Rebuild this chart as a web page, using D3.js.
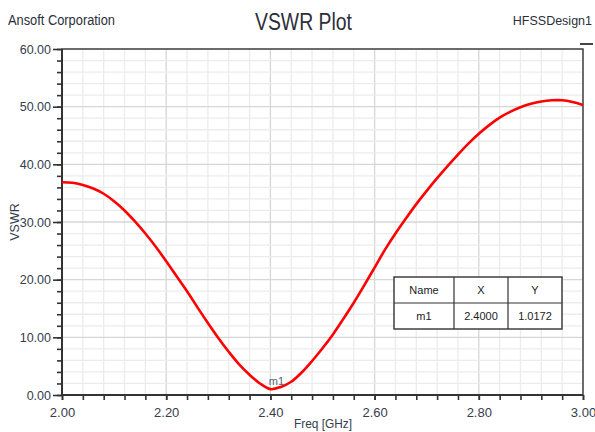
<!DOCTYPE html>
<html><head><meta charset="utf-8">
<script src="https://cdn.jsdelivr.net/npm/d3@7"></script>
<style>body{margin:0;background:#fff}svg{display:block;font-family:Arial,"Liberation Sans",sans-serif}</style>
</head><body>
<script>
const freq = [2.00,2.02,2.04,2.06,2.08,2.10,2.12,2.14,2.16,2.18,2.20,2.22,2.24,2.26,2.28,2.30,2.32,2.34,2.36,2.38,2.40,2.42,2.44,2.46,2.48,2.50,2.52,2.54,2.56,2.58,2.60,2.62,2.64,2.66,2.68,2.70,2.72,2.74,2.76,2.78,2.80,2.82,2.84,2.86,2.88,2.90,2.92,2.94,2.96,2.98,3.00];
const vswr = [36.9,36.8,36.4,35.8,34.9,33.6,32.0,30.1,28.0,25.7,23.2,20.6,18.0,15.2,12.5,9.9,7.5,5.3,3.5,2.0,1.02,1.4,2.3,3.9,5.9,8.1,10.5,13.2,16.0,19.0,22.1,25.2,28.0,30.6,33.1,35.4,37.6,39.7,41.7,43.6,45.3,46.8,48.1,49.1,49.9,50.5,50.9,51.1,51.1,50.8,50.3];
const xTickLabels = ["2.00","2.20","2.40","2.60","2.80","3.00"];
const yTickLabels = ["0.00","10.00","20.00","30.00","40.00","50.00","60.00"];
const tableHeader = ["Name","X","Y"];
const tableRow = ["m1","2.4000","1.0172"];
const markerName = "m1";
const markerX = 2.40, markerY = 1.0172;

const W = 595, H = 432;
const svg = d3.select("body").append("svg").attr("width", W).attr("height", H);
const x = d3.scaleLinear().domain([2, 3]).range([62, 583]);
const y = d3.scaleLinear().domain([0, 60]).range([395, 49]);
const txt = "#353d4e";

// gridlines
const xMinor = d3.range(0, 26).map(i => 2 + i * 0.04);
const yMinor = d3.range(0, 31).map(i => i * 2);
const g = svg.append("g");
g.selectAll(".vx").data(xMinor).join("line")
  .attr("x1", d => x(d)).attr("x2", d => x(d)).attr("y1", y(60)).attr("y2", y(0))
  .attr("stroke", (d, i) => i % 5 === 0 ? "#d6d6d6" : "#ececec").attr("stroke-width", 1.3);
g.selectAll(".hy").data(yMinor).join("line")
  .attr("x1", x(2)).attr("x2", x(3)).attr("y1", d => y(d)).attr("y2", d => y(d))
  .attr("stroke", (d, i) => i % 5 === 0 ? "#d6d6d6" : "#ececec").attr("stroke-width", 1.3);

// frame
svg.append("rect").attr("x", x(2)).attr("y", y(60)).attr("width", x(3) - x(2)).attr("height", y(0) - y(60))
  .attr("fill", "none").attr("stroke", "#3a3a3a").attr("stroke-width", 1.4);

// axes
const xAxisMinor = d3.axisBottom(x).tickValues(xMinor).tickSize(5).tickFormat("");
const xAxisMajor = d3.axisBottom(x).tickValues(xTickLabels.map(Number)).tickSize(5).tickPadding(8)
  .tickFormat((d, i) => xTickLabels[i]);
const yAxisMinor = d3.axisLeft(y).tickValues(yMinor).tickSize(5).tickFormat("");
const yAxisMajor = d3.axisLeft(y).tickValues(yTickLabels.map(Number)).tickSize(9).tickPadding(2)
  .tickFormat((d, i) => yTickLabels[i]);
function styleAxis(sel, fs) {
  sel.select(".domain").remove();
  sel.selectAll("line").attr("stroke", "#333").attr("stroke-width", 1.6);
  sel.selectAll("text").attr("fill", txt).attr("font-size", fs).attr("font-family", "Arial, 'Liberation Sans', sans-serif");
}
svg.append("g").attr("transform", `translate(0,${y(0)})`).call(xAxisMinor).call(s => styleAxis(s, 13));
svg.append("g").attr("transform", `translate(0,${y(0)})`).call(xAxisMajor).call(s => styleAxis(s, 13));
svg.append("g").attr("transform", `translate(${x(2)},0)`).call(yAxisMinor).call(s => styleAxis(s, 12.5));
svg.append("g").attr("transform", `translate(${x(2)},0)`).call(yAxisMajor).call(s => styleAxis(s, 12.5));
// thicker left & bottom axis lines
svg.append("line").attr("x1", x(2)).attr("x2", x(2)).attr("y1", y(60)).attr("y2", y(0) + 1).attr("stroke", "#333").attr("stroke-width", 2);
svg.append("line").attr("x1", x(2)).attr("x2", x(3)).attr("y1", y(0)).attr("y2", y(0)).attr("stroke", "#333").attr("stroke-width", 2);

// curve
const pts = freq.map((f, i) => [f, vswr[i]]);
svg.append("path").datum(pts)
  .attr("d", d3.line().x(d => x(d[0])).y(d => y(d[1])).curve(d3.curveCatmullRom))
  .attr("fill", "none").attr("stroke", "#ff0000").attr("stroke-width", 2.6);

// marker label
svg.append("text").attr("x", x(markerX) + 6).attr("y", y(markerY) - 4).attr("text-anchor", "middle")
  .attr("font-size", 11).attr("fill", "#55637a").text(markerName);

// table
const tx = 394, ty = 277, colW = [60, 54, 54], rowH = 26;
const tbl = svg.append("g");
tbl.append("rect").attr("x", tx).attr("y", ty).attr("width", d3.sum(colW)).attr("height", rowH * 2)
  .attr("fill", "#fff").attr("stroke", "#333").attr("stroke-width", 1.4);
tbl.append("line").attr("x1", tx).attr("x2", tx + d3.sum(colW)).attr("y1", ty + rowH).attr("y2", ty + rowH).attr("stroke", "#333").attr("stroke-width", 1.2);
let cx = tx;
colW.slice(0, -1).forEach(w => { cx += w; tbl.append("line").attr("x1", cx).attr("x2", cx).attr("y1", ty).attr("y2", ty + rowH * 2).attr("stroke", "#333").attr("stroke-width", 1.2); });
[tableHeader, tableRow].forEach((row, r) => {
  let off = tx;
  row.forEach((t, c) => {
    tbl.append("text").attr("x", off + colW[c] / 2).attr("y", ty + rowH * r + rowH / 2 + 4)
      .attr("text-anchor", "middle").attr("font-size", 11).attr("fill", "#222").text(t);
    off += colW[c];
  });
});

// header texts
svg.append("text").attr("x", 8).attr("y", 25).attr("font-size", 14).attr("fill", "#2b2f3a")
  .attr("textLength", 107).attr("lengthAdjust", "spacingAndGlyphs").text("Ansoft Corporation");
svg.append("text").attr("x", 255).attr("y", 30).attr("font-size", 23).attr("fill", "#2b2f3a")
  .attr("textLength", 97).attr("lengthAdjust", "spacingAndGlyphs").text("VSWR Plot");
svg.append("text").attr("x", 592).attr("y", 25).attr("text-anchor", "end").attr("font-size", 12.5).attr("fill", "#2b2f3a")
  .text("HFSSDesign1");
svg.append("line").attr("x1", 580).attr("x2", 593).attr("y1", 44).attr("y2", 44).attr("stroke", "#444").attr("stroke-width", 2);

// axis titles
svg.append("text").attr("x", 294).attr("y", 428).attr("font-size", 13).attr("fill", txt)
  .attr("textLength", 58).attr("lengthAdjust", "spacingAndGlyphs").text("Freq [GHz]");
svg.append("text").attr("transform", "translate(19,222) rotate(-90)").attr("text-anchor", "middle")
  .attr("font-size", 12.5).attr("fill", txt).text("VSWR");
</script>
</body></html>
